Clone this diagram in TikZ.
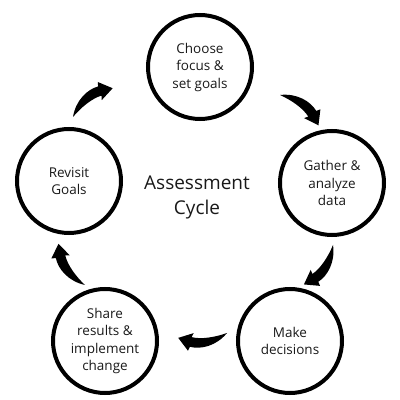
\documentclass[tikz,border=0pt]{standalone}
\usepackage{fontspec}
\setmainfont{Open Sans}
\usetikzlibrary{calc}
\tikzset{
  stage/.style={circle, draw=black, line width=4pt, minimum size=104pt, inner sep=0pt,
    align=center, font=\fontsize{13.5}{17.5}\selectfont, text=black!90},
  swooshpic/.pic={
    \fill[black] (0,0) .. controls (12,12) and (28,14) .. (38.3,10)
      -- (40.6,13.8) -- (49,0) -- (33.2,-3.2) -- (35.6,0.6)
      .. controls (26,4) and (12,3) .. (0,0) -- cycle;
  }
}
\newcommand\swoosh[2]{%
  \path let \p1=($(#2)-(#1)$), \n1={atan2(\y1,\x1)} in
    pic[rotate=\n1] at (#1) {swooshpic};
}
\begin{document}
\begin{tikzpicture}[x=1pt,y=1pt]
\useasboundingbox (0,0) rectangle (400,400);
\node[stage] (focus) at (200,333) {Choose\\focus \&\\set goals};
\node[stage] (gather) at (332,217) {Gather \&\\analyze\\data};
\node[stage] (decide) at (290,59) {Make\\decisions};
\node[stage] (share) at (105,59) {Share\\results \&\\implement\\change};
\node[stage] (revisit) at (69,219) {Revisit\\Goals};
\node[align=center, font=\fontsize{19}{25}\selectfont, text=black!90] (title) at (197,203) {Assessment\\Cycle};
\coordinate (t1) at (73,283); \coordinate (h1) at (113,312);
\coordinate (t2) at (280,305); \coordinate (h2) at (318,275);
\coordinate (t3) at (333,155); \coordinate (h3) at (305,117);
\coordinate (t4) at (227,67); \coordinate (h4) at (177,62);
\coordinate (t5) at (85,115); \coordinate (h5) at (58,157);
\swoosh{t1}{h1}
\swoosh{t2}{h2}
\swoosh{t3}{h3}
\swoosh{t4}{h4}
\swoosh{t5}{h5}
\end{tikzpicture}
\end{document}
